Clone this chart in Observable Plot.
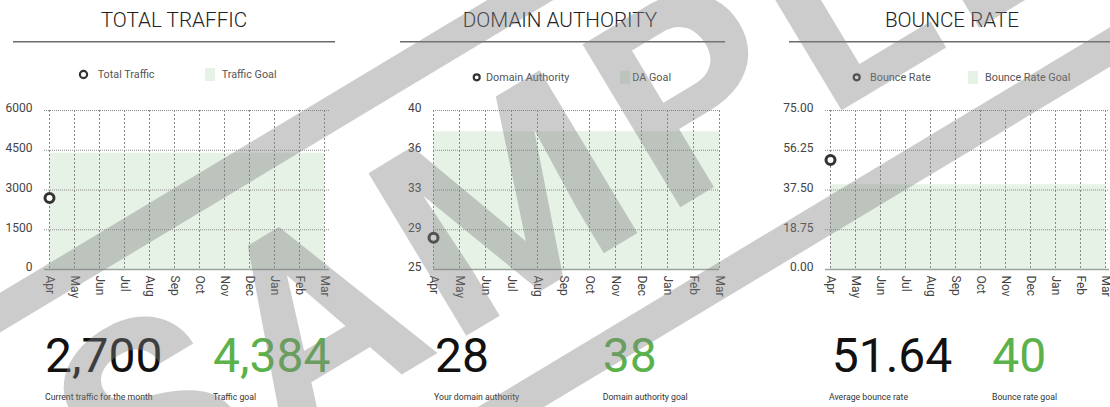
<!DOCTYPE html>
<html><head><meta charset="utf-8">
<script src="https://cdn.jsdelivr.net/npm/d3@7"></script>
<script src="https://cdn.jsdelivr.net/npm/@observablehq/plot@0.6"></script>
<style>
html,body{margin:0;padding:0;background:#fff;}
#page{position:relative;width:1110px;height:407px;overflow:hidden;font-family:Roboto,"Noto Sans",sans-serif;background:#fff;}
#page svg.plotsvg{position:absolute;top:100px;max-width:none;background:transparent;}
#overlay{position:absolute;left:0;top:0;pointer-events:none;}
</style></head><body><div id="page"></div>
<script>
// ---------- data ----------
const months = ["Apr","May","Jun","Jul","Aug","Sep","Oct","Nov","Dec","Jan","Feb","Mar"];
const panelTitles = ["TOTAL TRAFFIC","DOMAIN AUTHORITY","BOUNCE RATE"];
const seriesNames = ["Total Traffic","Domain Authority","Bounce Rate"];
const goalNames = ["Traffic Goal","DA Goal","Bounce Rate Goal"];
const actualMonths = ["Apr"];
const trafficValues = [2700];
const domainAuthorityValues = [28];
const bounceRateValues = [51.64];
const goals = [4384, 38, 40];
const trafficTicks = [0,1500,3000,4500,6000];
const trafficTickLabels = ["0","1500","3000","4500","6000"];
const daTicks = [25,28.75,32.5,36.25,40];
const daTickLabels = ["25","29","33","36","40"];
const bounceTicks = [0,18.75,37.5,56.25,75];
const bounceTickLabels = ["0.00","18.75","37.50","56.25","75.00"];
const currentCaptions = ["Current traffic for the month","Your domain authority","Average bounce rate"];
const goalCaptions = ["Traffic goal","Domain authority goal","Bounce rate goal"];
const watermarkText = "SAMPLE";

// ---------- layout ----------
const layout = [
  {svgLeft:0,   ml:44, width:339, titleX:174, r1:13,  r2:335,  legY:74.5, legTextY:78.3, ringX:83.5,  ringR:3.6, serX:97.7, swX:205, goalX:221.7, numX:[45,213],      capX:[45,213]},
  {svgLeft:380, ml:53, width:349, titleX:560, r1:400, r2:725,  legY:77.3, legTextY:81,   ringX:476.7, ringR:3,   serX:486,  swX:620, goalX:632.3, numX:[435,602.7],   capX:[434,602.7]},
  {svgLeft:760, ml:65, width:359, titleX:952, r1:789, r2:1120, legY:77.3, legTextY:81,   ringX:856.7, ringR:3,   serX:870,  swX:968, goalX:985,   numX:[831.7,992.3], capX:[829,992]}
];
const GREEN_FILL = "#e6f2e5";
const GREEN_TEXT = "#5bb14a";

const page = document.getElementById("page");
const panels = [
  {values: trafficValues, ticks: trafficTicks, labels: trafficTickLabels},
  {values: domainAuthorityValues, ticks: daTicks, labels: daTickLabels},
  {values: bounceRateValues, ticks: bounceTicks, labels: bounceTickLabels}
];

panels.forEach((p, i) => {
  const L = layout[i];
  const domain = [p.ticks[0], p.ticks[p.ticks.length - 1]];
  const goalRows = months.map(m => ({month: m, lo: domain[0], goal: goals[i]}));
  const pts = actualMonths.map((m, k) => ({month: m, value: p.values[k]}));
  const svg = Plot.plot({
    width: L.width, height: 209,
    marginLeft: L.ml, marginRight: 10, marginTop: 10, marginBottom: 40,
    style: {fontFamily: "Roboto", fontSize: "12px", color: "#444", background: "transparent", overflow: "visible"},
    x: {type: "point", domain: months, padding: 0, label: null},
    y: {domain, label: null},
    marks: [
      Plot.areaY(goalRows, {x: "month", y1: "lo", y2: "goal", fill: GREEN_FILL}),
      Plot.gridY(p.ticks, {stroke: "#888", strokeOpacity: 1, strokeDasharray: "1,1"}),
      Plot.gridX(months, {stroke: "#888", strokeOpacity: 1, strokeDasharray: "2,2"}),
      Plot.ruleY([domain[0]], {stroke: "#9ba59b", strokeWidth: 1.3}),
      Plot.axisY(p.ticks, {tickSize: 0, tickPadding: 12, tickFormat: d => p.labels[p.ticks.indexOf(d)], fill: "#444", fontSize: 12, dy: -2}),
      Plot.axisX(months, {tickSize: 0, tickPadding: 6, tickRotate: 90, fill: "#444", fontSize: 12}),
      Plot.dot(pts, {x: "month", y: "value", r: 4.5, stroke: "#333", strokeWidth: 3, fill: "white"})
    ]
  });
  svg.classList.add("plotsvg");
  svg.style.left = L.svgLeft + "px";
  page.appendChild(svg);
});

// ---------- overlay text ----------
const ov = d3.select(page).append("svg").attr("id", "overlay")
  .attr("width", 1110).attr("height", 407)
  .style("font-family", "Roboto, 'Noto Sans', sans-serif");

const currentValues = [trafficValues, domainAuthorityValues, bounceRateValues].map(a => a[a.length - 1]);
const fmt = d3.format(",");

layout.forEach((L, i) => {
  ov.append("text").attr("x", L.titleX).attr("y", 27).attr("text-anchor", "middle")
    .attr("font-size", 20.7).attr("font-weight", 300).attr("fill", "#222").text(panelTitles[i]);
  ov.append("line").attr("x1", L.r1).attr("x2", L.r2).attr("y1", 41.7).attr("y2", 41.7)
    .attr("stroke", "#6b6b6b").attr("stroke-width", 1.6);
  ov.append("circle").attr("cx", L.ringX).attr("cy", L.legY).attr("r", L.ringR)
    .attr("fill", "#fff").attr("stroke", "#333").attr("stroke-width", 2.2);
  ov.append("text").attr("x", L.serX).attr("y", L.legTextY).attr("font-size", 10.8).attr("fill", "#555").text(seriesNames[i]);
  ov.append("rect").attr("x", L.swX).attr("y", L.legY - 6.5).attr("width", 10).attr("height", 13).attr("fill", GREEN_FILL);
  ov.append("text").attr("x", L.goalX).attr("y", L.legTextY).attr("font-size", 10.8).attr("fill", "#555").text(goalNames[i]);
  ov.append("text").attr("x", L.numX[0]).attr("y", 372).attr("font-size", 48).attr("font-weight", 400).attr("fill", "#111")
    .text(fmt(currentValues[i]));
  ov.append("text").attr("x", L.numX[1]).attr("y", 372).attr("font-size", 48).attr("font-weight", 400).attr("fill", GREEN_TEXT)
    .text(fmt(goals[i]));
  ov.append("text").attr("x", L.capX[0]).attr("y", 400).attr("font-size", 8.7).attr("fill", "#333").text(currentCaptions[i]);
  ov.append("text").attr("x", L.capX[1]).attr("y", 400).attr("font-size", 8.7).attr("fill", "#333").text(goalCaptions[i]);
});

// ---------- watermark ----------
const wm = ov.append("g").attr("transform", "rotate(-31)").attr("opacity", 0.4);
wm.append("line").attr("x1", -1000).attr("x2", 2500).attr("y1", 268).attr("y2", 268).attr("stroke", "rgb(130,130,130)").attr("stroke-width", 34);
wm.append("line").attr("x1", -1000).attr("x2", 2500).attr("y1", 612).attr("y2", 612).attr("stroke", "rgb(130,130,130)").attr("stroke-width", 34);
wm.append("text").attr("x", -166).attr("y", 528).attr("font-size", 267).attr("font-weight", 700)
  .attr("letter-spacing", 16).attr("fill", "rgb(130,130,130)").text(watermarkText);
</script></body></html>
